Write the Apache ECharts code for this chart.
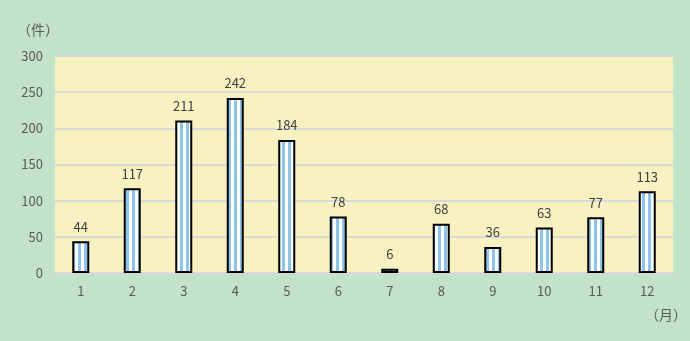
<!DOCTYPE html>
<html><head><meta charset="utf-8">
<script src="https://cdn.jsdelivr.net/npm/echarts@6/dist/echarts.min.js"></script>
<style>html,body{margin:0;padding:0;background:#C2E3C9;}#c{width:690px;height:341px;}</style>
</head><body><div id="c"></div>
<script>
const months = ['1','2','3','4','5','6','7','8','9','10','11','12'];
const counts = [44,117,211,242,184,78,6,68,36,63,77,113];
const yTicks = [0,50,100,150,200,250,300];

const pc = document.createElement('canvas');
pc.width = 6; pc.height = 4;
const g = pc.getContext('2d');
g.fillStyle = '#ffffff'; g.fillRect(0,0,6,4);
g.fillStyle = '#8EC3EA'; g.fillRect(0,0,3,4);

const chart = echarts.init(document.getElementById('c'), null, {renderer:'canvas'});
const font = '"Noto Sans CJK JP", "Noto Sans", sans-serif';
chart.setOption({
  backgroundColor: '#C2E3C9',
  animation: false,
  textStyle: {fontFamily: font},
  grid: {left: 55, right: 17, top: 56, bottom: 68, show: true, backgroundColor: '#F8F2C3', borderWidth: 0},
  graphic: [
    {type:'text', left: 17, top: 23, style:{text:'（件）', fill:'#595959', font:'14px ' + font}},
    {type:'text', left: 645, top: 308, style:{text:'（月）', fill:'#595959', font:'14px ' + font}}
  ],
  xAxis: {
    type: 'category', data: months,
    axisLine: {show: true, lineStyle: {color: '#D9D9D9', width: 2}},
    axisTick: {show: false},
    axisLabel: {color: '#595959', fontSize: 13, margin: 12}
  },
  yAxis: {
    type: 'value', min: yTicks[0], max: yTicks[yTicks.length-1], interval: 50,
    axisLine: {show: false}, axisTick: {show: false},
    axisLabel: {color: '#595959', fontSize: 13, margin: 12},
    splitLine: {lineStyle: {color: '#D9D9D9', width: 2}}
  },
  series: [{
    type: 'bar', data: counts, barWidth: '33%',
    itemStyle: {color: {image: pc, repeat: 'repeat'}, borderColor: '#000000', borderWidth: 2},
    label: {show: true, position: 'top', distance: 8, color: '#404040', fontSize: 13}
  }]
});
</script></body></html>
